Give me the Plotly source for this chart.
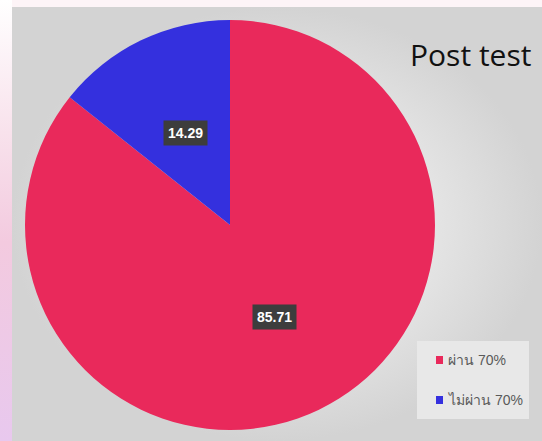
import math
import plotly.graph_objects as go

# Chart data
labels = ["ผ่าน 70%", "ไม่ผ่าน 70%"]
values = [85.71, 14.29]
colors = ["#E9295B", "#3430DE"]
title_text = "Post test"

W, H = 542, 441

# Pie geometry in pixels
cx, cy, r = 230, 225, 205


def px_x(x):
    return x / W


def px_y(y):
    return 1 - y / H


fig = go.Figure()

# Slide background strip on the left (white to pink to lavender)
fig.add_trace(go.Scatter(
    x=[0, 12, 12, 0, 0], y=[0, 0, H, H, 0],
    fill="toself", mode="lines", line=dict(width=0),
    fillgradient=dict(type="vertical",
                      colorscale=[[0, "#e8c8ee"], [0.45, "#f3cadf"], [0.7, "#f8e2ec"], [1, "#ffffff"]]),
    hoverinfo="skip", showlegend=False,
))
# Top strip
fig.add_trace(go.Scatter(
    x=[12, W, W, 12, 12], y=[H - 7, H - 7, H, H, H - 7],
    fill="toself", mode="lines", line=dict(width=0),
    fillcolor="#fdf4f7", hoverinfo="skip", showlegend=False,
))
# Grey panel with a soft radial shading
fig.add_trace(go.Scatter(
    x=[12, W, W, 12, 12], y=[0, 0, H - 7, H - 7, 0],
    fill="toself", mode="lines", line=dict(width=0),
    fillgradient=dict(type="radial",
                      colorscale=[[0, "#f0f0f0"], [0.6, "#e4e4e4"], [1, "#d3d3d3"]]),
    hoverinfo="skip", showlegend=False,
))
# Soft shadow around the pie
for k, a in [(12, 0.04), (8, 0.06), (4, 0.08)]:
    fig.add_shape(type="circle", xref="x", yref="y",
                  x0=cx - r - k + 2, x1=cx + r + k + 2,
                  y0=H - (cy + r + k + 3), y1=H - (cy - r - k + 3),
                  fillcolor=f"rgba(90,90,90,{a})", line=dict(width=0), layer="below")

fig.add_trace(go.Pie(
    labels=labels, values=values, sort=False, direction="clockwise", rotation=0,
    marker=dict(colors=colors, line=dict(width=0)),
    textinfo="none", hoverinfo="label+value", showlegend=False,
    domain=dict(x=[px_x(cx - r), px_x(cx + r)], y=[px_y(cy + r), px_y(cy - r)]),
))

# Value labels at half radius along each slice's middle angle
total = sum(values)
start = 0.0
for v in values:
    mid = (start + v / 2) / total * 2 * math.pi
    lx = cx + 0.5 * r * math.sin(mid)
    ly = cy - 0.5 * r * math.cos(mid)
    fig.add_annotation(x=px_x(lx), y=px_y(ly), xref="paper", yref="paper",
                       xanchor="center", yanchor="middle",
                       text=f"<b>{v:.2f}</b>", showarrow=False,
                       font=dict(family="Arial", size=14, color="white"),
                       bgcolor="#3d3d3d", borderpad=4)
    start += v

# Title
fig.add_annotation(x=px_x(470), y=px_y(55), xref="paper", yref="paper",
                   xanchor="center", yanchor="middle",
                   text=title_text, showarrow=False,
                   font=dict(family="Open Sans", size=30, color="#111111"))

# Legend box
fig.add_shape(type="rect", xref="x", yref="y", x0=417, x1=529, y0=H - 419, y1=H - 341,
              fillcolor="#e8e8e8", line=dict(width=0))
for i, (lab, col) in enumerate(zip(labels, colors)):
    yc = 360 + i * 40
    fig.add_shape(type="rect", xref="x", yref="y", x0=436, x1=443,
                  y0=H - (yc + 4), y1=H - (yc - 4), fillcolor=col, line=dict(width=0))
    fig.add_annotation(x=px_x(446), y=px_y(yc), xref="paper", yref="paper",
                       xanchor="left", yanchor="middle",
                       text=lab, showarrow=False,
                       font=dict(family="Arial", size=14, color="#595959"))

fig.update_layout(
    width=W, height=H, margin=dict(l=0, r=0, t=0, b=0),
    paper_bgcolor="#ffffff", plot_bgcolor="rgba(0,0,0,0)",
    xaxis=dict(range=[0, W], visible=False, fixedrange=True),
    yaxis=dict(range=[0, H], visible=False, fixedrange=True),
    showlegend=False,
)

fig.write_html("out.html")
